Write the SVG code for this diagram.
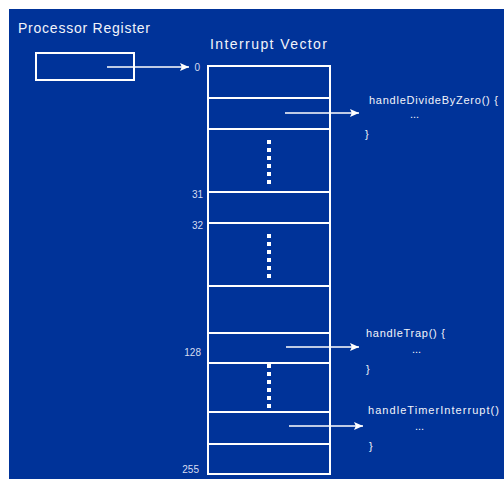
<svg xmlns="http://www.w3.org/2000/svg" width="504" height="479" viewBox="0 0 504 479">
<style>
.t{font-family:"Comic Sans MS","Liberation Sans",sans-serif;fill:#f2f4fa}
.title{font-size:14px}
.code{font-size:11px}
.num{font-size:10px;fill:#d6dcf0}
.box{fill:none;stroke:#fff;stroke-width:2}
.ln{stroke:#fff;stroke-width:2}
.arr{stroke:#fff;stroke-width:1.6;fill:none;marker-end:url(#ah)}
.dot{fill:#fff}
</style>
<defs>
<marker id="ah" viewBox="0 0 10 10" refX="10" refY="5" markerWidth="9" markerHeight="8" markerUnits="userSpaceOnUse" orient="auto" preserveAspectRatio="none">
<path d="M0,0 L10,5 L0,10 L2,5 Z" fill="#fff"/>
</marker>
<g id="dots">
<rect x="-2" y="-2" width="4" height="4"/>
<rect x="-2" y="6" width="4" height="4"/>
<rect x="-2" y="14" width="4" height="4"/>
<rect x="-2" y="22" width="4" height="4"/>
<rect x="-2" y="30" width="4" height="4"/>
<rect x="-2" y="38" width="4" height="4"/>
</g>
</defs>
<rect x="0" y="0" width="504" height="479" fill="#fff"/>
<rect x="9" y="9" width="495" height="470" fill="#003399"/>

<g id="processor-register">
<text class="t title" x="18" y="33" textLength="132">Processor Register</text>
<rect class="box" x="36" y="53" width="98" height="27"/>
</g>

<g id="interrupt-vector">
<text class="t title" x="210" y="49" textLength="117">Interrupt Vector</text>
<rect class="box" x="208" y="66" width="122" height="408"/>
<line class="ln" x1="208" y1="98" x2="330" y2="98"/>
<line class="ln" x1="208" y1="129" x2="330" y2="129"/>
<line class="ln" x1="208" y1="192" x2="330" y2="192"/>
<line class="ln" x1="208" y1="223" x2="330" y2="223"/>
<line class="ln" x1="208" y1="286" x2="330" y2="286"/>
<line class="ln" x1="208" y1="333" x2="330" y2="333"/>
<line class="ln" x1="208" y1="363" x2="330" y2="363"/>
<line class="ln" x1="208" y1="412" x2="330" y2="412"/>
<line class="ln" x1="208" y1="444" x2="330" y2="444"/>
<use href="#dots" x="269" y="142" class="dot"/>
<use href="#dots" x="269" y="236" class="dot"/>
<use href="#dots" x="269" y="366" class="dot"/>
<text class="t num" x="200" y="71" text-anchor="end">0</text>
<text class="t num" x="203" y="198" text-anchor="end">31</text>
<text class="t num" x="203" y="229" text-anchor="end">32</text>
<text class="t num" x="201" y="356" text-anchor="end">128</text>
<text class="t num" x="199" y="473" text-anchor="end">255</text>
</g>

<g id="handleDivideByZero">
<text class="t code" x="369" y="104" textLength="129">handleDivideByZero() {</text>
<text class="t code" x="410" y="118">...</text>
<text class="t code" x="365" y="138">}</text>
</g>

<g id="handleTrap">
<text class="t code" x="366" y="337" textLength="79">handleTrap() {</text>
<text class="t code" x="412" y="353">...</text>
<text class="t code" x="366" y="373">}</text>
</g>

<g id="handleTimerInterrupt">
<text class="t code" x="368" y="414" textLength="131">handleTimerInterrupt()</text>
<text class="t code" x="415" y="430">...</text>
<text class="t code" x="369" y="450">}</text>
</g>

<g id="connectors">
<line class="arr" x1="107" y1="67" x2="189" y2="67"/>
<line class="arr" x1="285" y1="113" x2="359" y2="113"/>
<line class="arr" x1="286" y1="347" x2="359" y2="347"/>
<line class="arr" x1="289" y1="426" x2="363" y2="426"/>
</g>
</svg>
